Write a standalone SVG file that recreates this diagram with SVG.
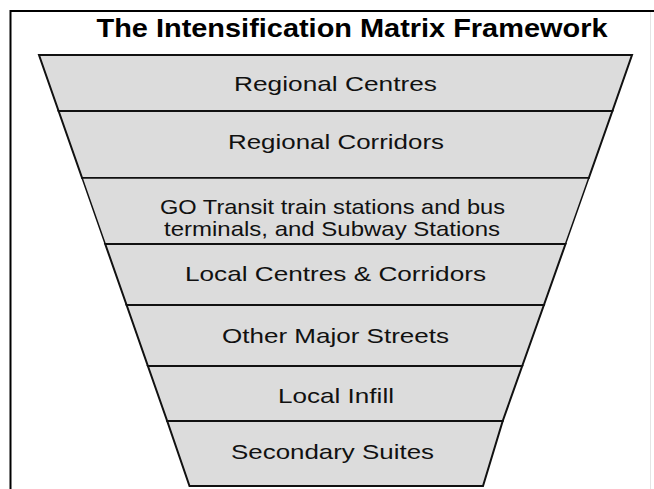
<svg xmlns="http://www.w3.org/2000/svg" width="654" height="489" viewBox="0 0 654 489">
<style>
.band{fill:#dcdcdc;stroke:#111;stroke-width:2;stroke-linejoin:miter}
.lbl{font-family:"Liberation Sans",Arial,sans-serif;font-size:21px;fill:#111;text-anchor:middle}
.title{font-family:"Liberation Sans",Arial,sans-serif;font-size:26px;font-weight:bold;fill:#000;text-anchor:middle}
</style>
<rect width="654" height="489" fill="#fff"/>
<line x1="650.5" y1="12" x2="650.5" y2="489" stroke="#e4e4e4" stroke-width="1"/>
<path d="M10.5 489 V11 H654" fill="none" stroke="#000" stroke-width="2"/>
<text class="title" x="352" y="37" textLength="511" lengthAdjust="spacingAndGlyphs">The Intensification Matrix Framework</text>
<g id="band1"><polygon class="band" points="39,55 632,55 612.4,111 58.6,111"/><text class="lbl" x="335.5" y="90.5" textLength="203" lengthAdjust="spacingAndGlyphs">Regional Centres</text></g>
<g id="band2"><polygon class="band" points="58.6,111 612.4,111 588.8,178 82.1,178"/><text class="lbl" x="336" y="148.5" textLength="216" lengthAdjust="spacingAndGlyphs">Regional Corridors</text></g>
<g id="band3"><polygon class="band" points="82.1,178 588.8,178 565.5,244 105.2,244" style="stroke-width:1.5"/><text class="lbl" x="332.5" y="214" textLength="345" lengthAdjust="spacingAndGlyphs">GO Transit train stations and bus</text><text class="lbl" x="332" y="235.5" textLength="336" lengthAdjust="spacingAndGlyphs">terminals, and Subway Stations</text></g>
<g id="band4"><polygon class="band" points="105.2,244 565.5,244 543.9,305 126.6,305"/><text class="lbl" x="335.5" y="280.5" textLength="301" lengthAdjust="spacingAndGlyphs">Local Centres &amp; Corridors</text></g>
<g id="band5"><polygon class="band" points="126.6,305 543.9,305 522.2,366 147.9,366"/><text class="lbl" x="335.5" y="342.5" textLength="227" lengthAdjust="spacingAndGlyphs">Other Major Streets</text></g>
<g id="band6"><polygon class="band" points="147.9,366 522.2,366 502.7,421 167.2,421"/><text class="lbl" x="336" y="402.5" textLength="116" lengthAdjust="spacingAndGlyphs">Local Infill</text></g>
<g id="band7"><polygon class="band" points="167.2,421 502.7,421 483,486 189.5,486"/><text class="lbl" x="332.5" y="458.5" textLength="203" lengthAdjust="spacingAndGlyphs">Secondary Suites</text></g>
<g id="connectors"/>
</svg>
